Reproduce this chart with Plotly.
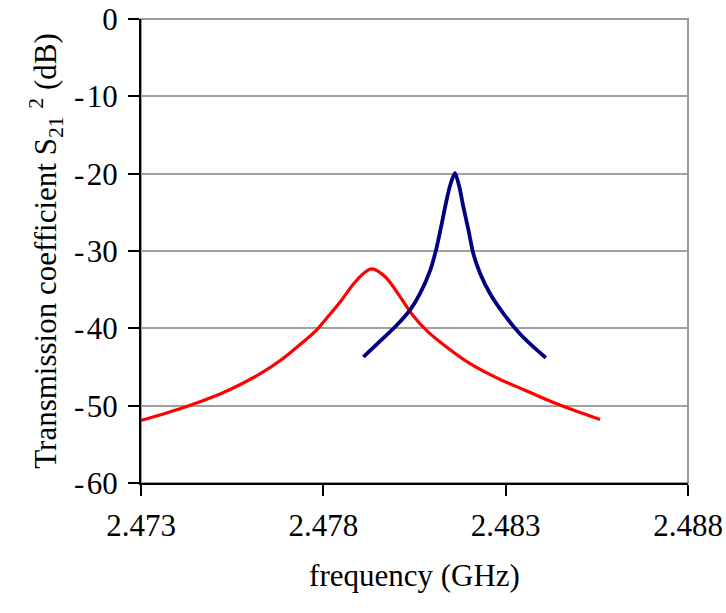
import plotly.graph_objects as go

# Red curve (frequency GHz, S21^2 dB)
red_freq = [2.47300, 2.47352, 2.47407, 2.47462, 2.47517, 2.47571, 2.47626, 2.47681,
            2.47736, 2.47782, 2.47809, 2.47846, 2.47882, 2.47910, 2.47933, 2.47969,
            2.48006, 2.48042, 2.48088, 2.48143, 2.48207, 2.48280, 2.48353, 2.48426,
            2.48499, 2.48559]
red_db = [-51.9, -51.2, -50.4, -49.5, -48.5, -47.3, -45.9, -44.2,
          -42.1, -40.2, -38.7, -36.6, -34.3, -32.9, -32.3, -33.3,
          -35.6, -38.1, -40.5, -42.6, -44.7, -46.5, -48.0, -49.5,
          -50.8, -51.8]

# Blue curve
blue_freq = [2.47910, 2.47955, 2.48001, 2.48038, 2.48065, 2.48093, 2.48111, 2.48125,
             2.48138, 2.48149, 2.48161, 2.48173, 2.48184, 2.48198, 2.48211, 2.48230,
             2.48257, 2.48294, 2.48339, 2.48376, 2.48410]
blue_db = [-43.7, -41.7, -39.6, -37.6, -35.5, -32.5, -29.5, -26.4,
           -23.4, -21.3, -19.9, -21.7, -24.3, -27.3, -30.3, -32.9,
           -35.5, -38.1, -40.7, -42.4, -43.8]

x_ticks = [2.473, 2.478, 2.483, 2.488]
x_tick_labels = ["2.473", "2.478", "2.483", "2.488"]
y_ticks = [0, -10, -20, -30, -40, -50, -60]
y_tick_labels = ["0", "-\u200a10", "-\u200a20", "-\u200a30", "-\u200a40", "-\u200a50", "-\u200a60"]

FONT = "Liberation Serif"
FS = 31

fig = go.Figure()
fig.add_trace(go.Scatter(x=red_freq, y=red_db, mode="lines",
                         line=dict(color="#FF0000", width=3.2, shape="spline", smoothing=1.0),
                         showlegend=False))
fig.add_trace(go.Scatter(x=blue_freq, y=blue_db, mode="lines",
                         line=dict(color="#000080", width=3.8, shape="spline", smoothing=0.6),
                         showlegend=False))

fig.add_shape(type="rect", xref="paper", yref="paper", x0=0, x1=1, y0=0, y1=1,
              line=dict(color="#999999", width=2), layer="below")

fig.update_layout(
    width=726, height=613,
    margin=dict(l=141, r=38, t=19, b=130, autoexpand=False),
    paper_bgcolor="white", plot_bgcolor="white",
    font=dict(family=FONT, size=FS, color="black"),
    xaxis=dict(range=[2.473, 2.488], tickvals=x_ticks, ticktext=x_tick_labels,
               automargin=False,
               showgrid=False, zeroline=False, showline=True, linecolor="black", linewidth=2,
               ticks="outside", ticklen=11, tickwidth=2, tickcolor="black",
               ticklabelstandoff=3,
               tickfont=dict(family=FONT, size=FS),
               title=dict(text="frequency (GHz)", font=dict(family=FONT, size=FS), standoff=22)),
    yaxis=dict(range=[-60, 0], tickvals=y_ticks, ticktext=y_tick_labels,
               automargin=False,
               showgrid=True, gridcolor="#a0a0a0", gridwidth=2, zeroline=False,
               showline=True, linecolor="black", linewidth=2,
               ticks="outside", ticklen=11, tickwidth=2, tickcolor="black",
               ticklabelstandoff=4,
               tickfont=dict(family=FONT, size=FS),
               title=dict(text="Transmission coefficient S<sub>21</sub> <sup>2</sup> (dB)",
                          font=dict(family=FONT, size=FS), standoff=8)),
)

fig.write_html("out.html")
